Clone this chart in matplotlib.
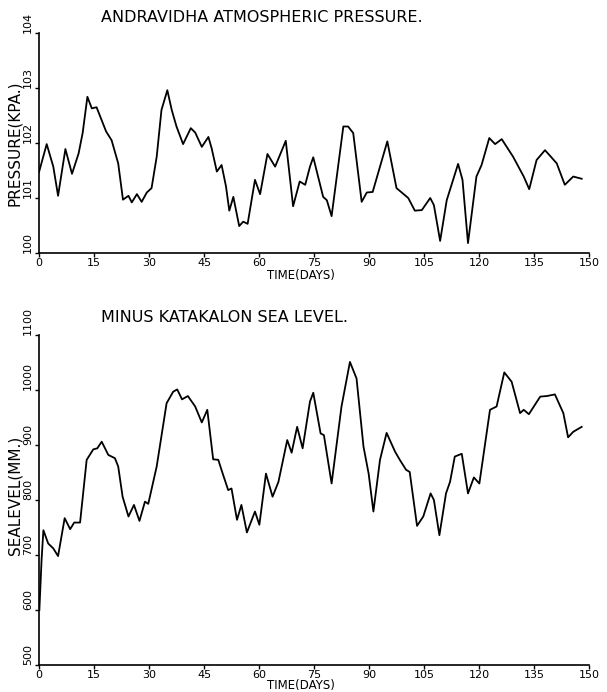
import matplotlib
matplotlib.use("Agg")
import matplotlib.pyplot as plt
import numpy as np

# --- values ---
pressure_days = [0.0, 2.1, 3.9, 5.2, 7.2, 9.0, 10.8, 11.9, 13.2, 14.4, 15.7, 18.3, 19.8,
                 21.6, 22.9, 24.4, 25.3, 26.7, 28.0, 29.4, 30.7, 32.1, 33.4, 35.0, 36.2,
                 37.5, 39.3, 41.4, 42.6, 44.4, 46.2, 47.1, 48.5, 49.8, 51.0, 51.9, 53.0,
                 54.6, 55.7, 56.9, 58.9, 60.3, 62.3, 64.4, 67.3, 69.3, 71.1, 72.6, 73.9,
                 74.8, 77.5, 78.5, 79.8, 83.0, 84.3, 85.7, 88.0, 89.4, 91.0, 95.0, 97.5,
                 100.7, 102.5, 104.4, 106.7, 107.7, 109.4, 111.2, 114.3, 115.5, 117.0,
                 119.3, 120.7, 122.8, 124.4, 126.2, 129.3, 132.2, 133.7, 135.7, 138.0,
                 141.2, 143.4, 145.7, 148.0]
pressure_kpa = [101.47, 101.98, 101.57, 101.04, 101.89, 101.44, 101.81, 102.18, 102.84,
                102.63, 102.65, 102.21, 102.05, 101.63, 100.97, 101.04, 100.92, 101.07,
                100.93, 101.10, 101.18, 101.75, 102.60, 102.96, 102.60, 102.30, 101.98,
                102.27, 102.19, 101.93, 102.11, 101.90, 101.48, 101.60, 101.21, 100.77,
                101.02, 100.49, 100.57, 100.53, 101.33, 101.07, 101.80, 101.57, 102.04,
                100.85, 101.30, 101.24, 101.57, 101.74, 101.02, 100.96, 100.67, 102.30,
                102.30, 102.18, 100.93, 101.10, 101.11, 102.03, 101.18, 101.00, 100.77,
                100.78, 101.00, 100.87, 100.22, 100.96, 101.62, 101.33, 100.18, 101.39,
                101.60, 102.09, 101.98, 102.07, 101.75, 101.39, 101.16, 101.69, 101.87,
                101.63, 101.24, 101.39, 101.35]

sea_days = [0.1, 0.7, 1.2, 2.5, 3.9, 5.2, 7.0, 8.5, 9.6, 11.2, 13.0, 14.8, 15.9, 17.1,
            18.9, 20.7, 21.6, 22.8, 24.4, 25.9, 27.4, 28.9, 29.8, 32.1, 34.8, 36.6, 37.7,
            39.0, 40.6, 42.6, 44.4, 45.9, 47.5, 48.9, 50.1, 51.6, 52.5, 54.0, 55.2, 56.7,
            58.9, 60.1, 61.9, 63.7, 65.3, 67.7, 68.9, 70.4, 71.9, 73.9, 74.8, 76.8, 77.7,
            79.8, 82.5, 84.8, 86.6, 88.5, 89.9, 91.2, 93.0, 94.8, 97.1, 98.4, 100.1,
            101.1, 103.1, 104.8, 106.8, 107.7, 109.2, 111.0, 112.1, 113.4, 115.3, 117.0,
            118.6, 120.1, 123.0, 124.8, 126.9, 128.9, 131.2, 132.2, 133.6, 136.7, 138.5,
            140.7, 143.0, 144.3, 145.7, 148.0]
sea_mm = [600, 691, 745, 721, 712, 698, 767, 747, 759, 759, 873, 892, 894, 906, 882, 876,
          861, 806, 770, 791, 762, 797, 793, 861, 976, 997, 1001, 983, 989, 970, 941, 964,
          874, 873, 848, 818, 821, 764, 791, 741, 779, 755, 848, 806, 833, 909, 886, 933,
          894, 979, 995, 921, 918, 830, 970, 1051, 1021, 897, 848, 779, 873, 922, 888, 873,
          855, 851, 753, 770, 812, 800, 736, 812, 833, 879, 884, 812, 841, 830, 964, 970,
          1032, 1015, 958, 964, 956, 988, 989, 992, 958, 914, 924, 933]

x_ticks = [0, 15, 30, 45, 60, 75, 90, 105, 120, 135, 150]
pressure_ticks = [100, 101, 102, 103, 104]
sea_ticks = [500, 600, 700, 800, 900, 1000, 1100]

W, H = 607, 692
fig = plt.figure(figsize=(W / 100, H / 100), dpi=100)
fig.patch.set_facecolor("white")


def px_axes(left, top, right, bottom):
    return fig.add_axes([left / W, 1 - bottom / H, (right - left) / W, (bottom - top) / H])


def style_axis(ax, yticks):
    for side in ("top", "right"):
        ax.spines[side].set_visible(False)
    for side in ("left", "bottom"):
        ax.spines[side].set_linewidth(1.2)
    ax.set_xlim(0, 150)
    ax.set_xticks(x_ticks)
    ax.set_xticklabels([str(t) for t in x_ticks], fontsize=8)
    ax.set_yticks(yticks)
    ax.set_yticklabels([str(t) for t in yticks], fontsize=8, rotation=90, va="bottom")
    ax.tick_params(axis="both", direction="out", length=3, width=1, pad=1.5)
    ax.tick_params(axis="x", pad=0.5)
    ax.set_ylim(yticks[0], yticks[-1])


# top panel: pressure
ax1 = px_axes(39, 33, 589, 253)
ax1.plot(pressure_days, pressure_kpa, color="black", lw=1.3)
style_axis(ax1, pressure_ticks)
fig.text(101 / W, 1 - 18 / H, "ANDRAVIDHA ATMOSPHERIC PRESSURE.", fontsize=11.5,
         ha="left", va="center")
fig.text(15 / W, 1 - 143 / H, "PRESSURE(KPA.)", fontsize=11, rotation=90,
         ha="center", va="center")
fig.text(301 / W, 1 - 282 / H, "TIME(DAYS)", fontsize=8.5, ha="center", va="bottom")

# bottom panel: sea level
ax2 = px_axes(39, 335, 589, 665)
ax2.plot(sea_days, sea_mm, color="black", lw=1.3)
style_axis(ax2, sea_ticks)
fig.text(101 / W, 1 - 317 / H, "MINUS KATAKALON SEA LEVEL.", fontsize=11.5,
         ha="left", va="center")
fig.text(15 / W, 1 - 495 / H, "SEALEVEL(MM.)", fontsize=11, rotation=90,
         ha="center", va="center")
fig.text(301 / W, 1 - 692 / H, "TIME(DAYS)", fontsize=8.5, ha="center", va="bottom")

fig.savefig("out.png", dpi=100, facecolor="white")
